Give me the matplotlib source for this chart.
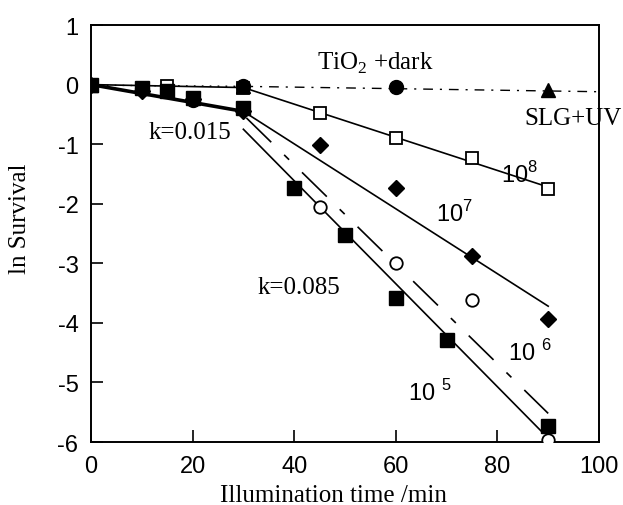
"""Plot ln survival against illumination time for several initial cell densities."""

import matplotlib

matplotlib.use("Agg")
import matplotlib.pyplot as plt


SERIF = "Liberation Serif"
SANS = "Liberation Sans"

# measured points, one list pair per initial density
TIME_1E8 = [0, 15, 30, 45, 60, 75, 90]
LN_1E8 = [0, -0.02, -0.05, -0.47, -0.90, -1.23, -1.75]

TIME_1E7 = [0, 10, 20, 30, 45, 60, 75, 90]
LN_1E7 = [0, -0.10, -0.25, -0.45, -1.01, -1.73, -2.87, -3.93]

TIME_1E6 = [0, 10, 20, 30, 45, 60, 75, 90]
LN_1E6 = [0, -0.08, -0.25, -0.40, -2.05, -3.00, -3.62, -5.96]

TIME_1E5 = [0, 10, 15, 20, 30, 40, 50, 60, 70, 90]
LN_1E5 = [0, -0.06, -0.11, -0.22, -0.40, -1.73, -2.52, -3.58, -4.29, -5.73]

TIME_DARK = [0, 10, 20, 30, 60]
LN_DARK = [0, -0.08, -0.26, -0.03, -0.04]

TIME_SLG = [0, 30, 90]
LN_SLG = [0, -0.03, -0.09]

# hand-drawn fit lines (end points)
FIT_EARLY_X = [0, 30]
FIT_EARLY_Y = [0, -0.45]
FIT_1E8_X = [0, 30, 90]
FIT_1E8_Y = [0, -0.05, -1.72]
FIT_1E7_X = [30, 90]
FIT_1E7_Y = [-0.45, -3.72]
FIT_1E6_X = [30.6, 90]
FIT_1E6_Y = [-0.56, -5.52]
FIT_1E5_X = [30, 89]
FIT_1E5_Y = [-0.75, -5.85]
CONTROL_DOT_X = [0, 30]
CONTROL_DOT_Y = [-0.01, -0.03]
CONTROL_X = [30, 100]
CONTROL_Y = [-0.03, -0.12]

X_TICKS = [0, 20, 40, 60, 80, 100]
Y_TICKS = [1, 0, -1, -2, -3, -4, -5, -6]


def main() -> None:
    plt.rcParams["axes.unicode_minus"] = False
    plt.rcParams["lines.scale_dashes"] = False

    fig = plt.figure(figsize=(6.23, 5.06), dpi=100)
    ax = fig.add_axes([0.146, 0.1245, 0.8155, 0.8241])

    # fit lines
    ax.plot(FIT_EARLY_X, FIT_EARLY_Y, color="black", lw=2.6, zorder=2)
    ax.plot(FIT_1E8_X, FIT_1E8_Y, color="black", lw=1.2, zorder=2)
    ax.plot(FIT_1E7_X, FIT_1E7_Y, color="black", lw=1.2, zorder=2)
    ax.plot(FIT_1E5_X, FIT_1E5_Y, color="black", lw=1.2, zorder=2)
    dashed, = ax.plot(FIT_1E6_X, FIT_1E6_Y, color="black", lw=1.2, zorder=2)
    dashed.set_dashes([25, 13, 5, 13])
    dotted, = ax.plot(CONTROL_DOT_X, CONTROL_DOT_Y, color="black", lw=1.0,
                      zorder=2)
    dotted.set_dashes([1.2, 4.5])
    dashdot, = ax.plot(CONTROL_X, CONTROL_Y, color="black", lw=1.0, zorder=2)
    dashdot.set_dashes([7, 5, 1.5, 5])

    # measured points
    ax.plot(TIME_1E6, LN_1E6, "o", ms=9, mfc="white", mec="black", mew=1.3,
            ls="none", zorder=3)
    ax.plot(TIME_1E8, LN_1E8, "s", ms=9, mfc="white", mec="black", mew=1.3,
            ls="none", zorder=3)
    ax.plot(TIME_1E7, LN_1E7, "D", ms=8, color="black", ls="none", zorder=4)
    ax.plot(TIME_1E5, LN_1E5, "s", ms=9.5, color="black", ls="none", zorder=4)
    ax.plot(TIME_DARK, LN_DARK, "o", ms=10, color="black", ls="none", zorder=4)
    ax.plot(TIME_SLG, LN_SLG, "^", ms=9.5, color="black", ls="none", zorder=4)

    ax.set_xlim(0, 100)
    ax.set_ylim(-6, 1)
    ax.set_xticks(X_TICKS)
    ax.set_yticks(Y_TICKS)
    ax.tick_params(direction="in", length=8.5, width=1.2, pad=9,
                   labelsize=17, top=False, right=False)
    for label in ax.get_xticklabels() + ax.get_yticklabels():
        label.set_fontfamily(SANS)
    for spine in ax.spines.values():
        spine.set_linewidth(1.4)

    ax.set_xlabel("Illumination time /min", family=SERIF, fontsize=18)
    ax.set_ylabel("ln Survival", family=SERIF, fontsize=18)
    ax.xaxis.set_label_coords(0.478, -0.1)
    ax.yaxis.set_label_coords(-0.118, 0.537)

    # annotations
    ax.text(44.5, 0.27, r"TiO$_\mathregular{2}$ +dark", family=SERIF,
            fontsize=18)
    ax.text(85.4, -0.67, "SLG+UV", family=SERIF, fontsize=18, clip_on=False)
    ax.text(11.4, -0.79, "k=0.015", family=SERIF, fontsize=18, va="center")
    ax.text(32.7, -3.39, "k=0.085", family=SERIF, fontsize=18, va="center")
    ax.text(80.7, -1.5, r"10$^\mathregular{8}$", family=SANS, fontsize=17,
            va="center")
    ax.text(67.9, -2.15, r"10$^\mathregular{7}$", family=SANS, fontsize=17,
            va="center")
    ax.text(82.1, -4.49, r"10 $^\mathregular{6}$", family=SANS, fontsize=17,
            va="center")
    ax.text(62.4, -5.16, r"10 $^\mathregular{5}$", family=SANS, fontsize=17,
            va="center")

    fig.savefig("out.png", dpi=100)


if __name__ == "__main__":
    main()
